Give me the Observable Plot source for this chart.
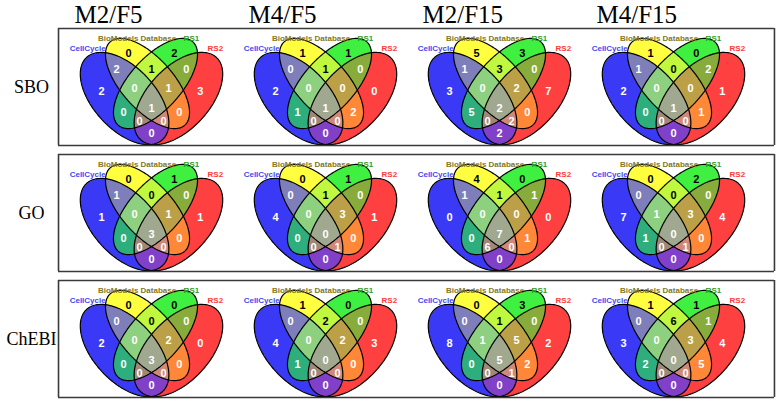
<!DOCTYPE html>
<html><head><meta charset="utf-8">
<script src="https://cdn.jsdelivr.net/npm/d3@7"></script>
<script src="https://cdn.jsdelivr.net/npm/@observablehq/plot@0.6"></script>
<style>body{margin:0;background:#fff}</style>
</head><body><div id="chart"></div>
<script>
// ---------- data ----------
const columns = ["M2/F5", "M4/F5", "M2/F15", "M4/F15"];
const rows = ["SBO", "GO", "ChEBI"];
const setNames = ["CellCycle", "BioModels Database", "RS1", "RS2"]; // A, B, C, D
// region order for every count list below
const regions = ["A","B","C","D","AB","BC","CD","ABC","BCD","AC","ABCD","BD","ACD","ABD","AD"];
const sboCounts = [
  [2,0,2,3, 2,1,0, 0,1, 0,1,0, 0,0,0],
  [2,1,1,0, 0,1,0, 0,0, 1,1,2, 0,0,0],
  [3,5,3,7, 1,3,0, 0,2, 5,2,0, 0,2,2],
  [2,1,0,1, 1,0,2, 0,0, 0,1,1, 0,0,0]
];
const goCounts = [
  [1,0,1,1, 1,0,0, 0,1, 0,3,0, 0,0,0],
  [4,0,1,1, 0,1,0, 0,3, 0,0,0, 0,1,0],
  [0,4,0,0, 1,1,1, 0,0, 0,7,1, 6,0,0],
  [7,0,2,4, 0,0,0, 1,3, 1,0,0, 0,1,0]
];
const chebiCounts = [
  [2,0,0,0, 0,0,0, 0,2, 0,3,0, 0,0,0],
  [4,1,0,3, 0,2,0, 0,2, 1,0,0, 0,0,0],
  [8,0,3,2, 0,1,0, 1,5, 0,5,2, 0,1,0],
  [3,1,1,4, 0,6,1, 0,3, 2,0,5, 0,0,0]
];

// ---------- Venn template (local units ≈ px, origin = venn centre x, band top y) ----------
const ellipses = [
  {id: "A", cx: -27, cy: 67, a: 56, b: 31, tilt: 43},
  {id: "B", cx: -4,  cy: 52, a: 56, b: 26, tilt: 42},
  {id: "C", cx: 4,   cy: 52, a: 56, b: 26, tilt: -42},
  {id: "D", cx: 27,  cy: 67, a: 56, b: 31, tilt: -43}
];
const regionPos = {A:[-50,60], B:[-23,22], C:[23,22], D:[49,60], AB:[-35,38], BC:[0,38], CD:[35,38],
  ABC:[-17,57], BCD:[17,57], AC:[-28,81], ABCD:[0,77], BD:[28,81], ACD:[-12,90], ABD:[12,90], AD:[0,102]};
const regionFill = {A:"#3a3af6", B:"#ffff40", C:"#40f040", D:"#ff4040", AB:"#7e7eba", BC:"#c0f840",
  CD:"#88ac3c", ABC:"#8cd080", BCD:"#bca048", AC:"#2eae7c", ABCD:"#a0a890", ACD:"#a08878",
  ABD:"#d08878", BD:"#ff8838", AD:"#8040c8"};
const darkText = new Set(["B", "C", "BC"]);
const setLabelPos = [[-64,17],[-14.5,6.5],[40,6.5],[64,17]];
const setLabelColor = ["#4646f2", "#857822", "#2f9a2f", "#ff3a3a"];

const xDom = [-87.25, 87.25];
const yDom = [0, 120];

function inside(e, x, y) {
  const t = e.tilt * Math.PI / 180, s = Math.sin(t), c = Math.cos(t);
  const dx = x - e.cx, dy = y - e.cy;
  const pu = dx * s + dy * c, pv = dx * c - dy * s;
  return (pu / e.a) ** 2 + (pv / e.b) ** 2 <= 1;
}
function regionColor(x, y) {
  let key = "";
  for (const e of ellipses) if (inside(e, x, y)) key += e.id;
  return key ? (regionFill[key] || "#ffffff") : "#ffffff";
}
const outline = ellipses.flatMap(e => {
  const t = e.tilt * Math.PI / 180, s = Math.sin(t), c = Math.cos(t);
  return d3.range(0, 120).map(i => {
    const th = i / 120 * 2 * Math.PI;
    return {id: e.id, x: e.cx + e.a * Math.cos(th) * s + e.b * Math.sin(th) * c,
                      y: e.cy + e.a * Math.cos(th) * c - e.b * Math.sin(th) * s};
  });
});
const setLabels = setNames.map((name, i) => ({name, x: setLabelPos[i][0], y: setLabelPos[i][1], color: setLabelColor[i]}));

const countsByRow = {SBO: sboCounts, GO: goCounts, ChEBI: chebiCounts};
const counts = rows.flatMap(r => columns.flatMap((c, ci) => regions.map((reg, k) => ({
  row: r, col: c, region: reg, value: countsByRow[r][ci][k],
  x: regionPos[reg][0], y: regionPos[reg][1]
}))));

// row boxes
const boxTop = -3, boxBottom = 114, boxLeft = -93.25, boxRight = 101.25;
const hLines = rows.flatMap(r => columns.flatMap((c, ci) => [boxTop, boxBottom].map(y => ({
  row: r, col: c, y,
  x1: ci === 0 ? boxLeft : xDom[0], x2: ci === columns.length - 1 ? boxRight : xDom[1]
}))));
const vLines = rows.flatMap(r => [
  {row: r, col: columns[0], x: boxLeft},
  {row: r, col: columns[columns.length - 1], x: boxRight}
]);

const chart = Plot.plot({
  width: 778, height: 403,
  marginTop: 30, marginBottom: 0, marginLeft: 63, marginRight: 17,
  x: {domain: xDom, axis: null},
  y: {domain: yDom, reverse: true, axis: null},
  fx: {domain: columns, padding: 0},
  fy: {domain: rows, paddingInner: 0.0514, paddingOuter: 0},
  color: {type: "identity"},
  marks: [
    Plot.raster({fill: (x, y) => regionColor(x, y), x1: xDom[0], x2: xDom[1], y1: yDom[0], y2: yDom[1], pixelSize: 1}),
    Plot.line(outline, {x: "x", y: "y", z: "id", stroke: "#000", strokeWidth: 1.2, curve: "linear-closed"}),
    Plot.text(setLabels, {x: "x", y: "y", text: "name", fill: "color", fontSize: 8, fontWeight: "bold", fontFamily: "Liberation Sans"}),
    Plot.text(counts, {fx: "col", fy: "row", x: "x", y: "y", text: "value",
      fill: d => darkText.has(d.region) ? "#000" : "#fff", fontSize: 11, fontWeight: "bold", fontFamily: "Liberation Sans"}),
    Plot.ruleY(hLines, {fx: "col", fy: "row", y: "y", x1: "x1", x2: "x2", stroke: "#3a3a3a", strokeWidth: 1.6}),
    Plot.ruleX(vLines, {fx: "col", fy: "row", x: "x", y1: boxTop, y2: boxBottom, stroke: "#3a3a3a", strokeWidth: 1.6}),
    Plot.axisFx({anchor: "top", label: null, tickSize: 0, tickPadding: 9, fontSize: 25,
      fontFamily: "Liberation Serif", textAnchor: "start", dx: -77, fill: "#000"}),
    Plot.axisFy({anchor: "left", label: null, tickSize: 0, tickPadding: 3, fontSize: 18,
      fontFamily: "Liberation Serif", textAnchor: "middle", dx: -30, dy: -4, fill: "#000"})
  ]
});
document.getElementById("chart").appendChild(chart);
</script>
</body></html>
